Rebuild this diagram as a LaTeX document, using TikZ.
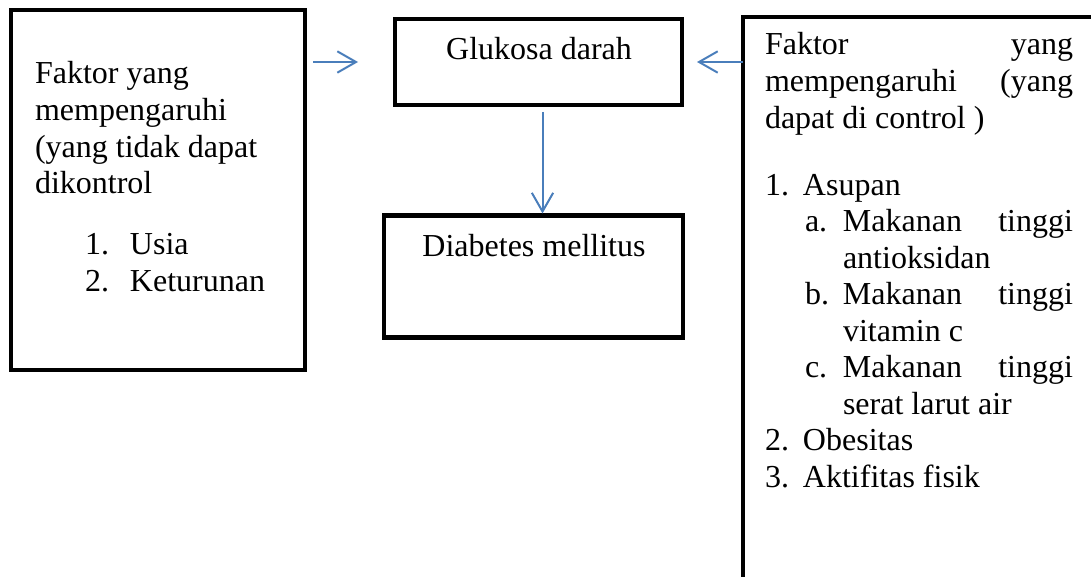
\documentclass[tikz,border=0pt]{standalone}
\usepackage{fontspec}
\setmainfont{Liberation Serif}
\usetikzlibrary{positioning,arrows.meta}
\definecolor{PanahBiru}{RGB}{74,126,187}
\tikzset{
  kotak/.style={draw=black,line width=3.6pt,outer sep=0pt,inner sep=0pt},
  teks/.style={inner sep=0pt,outer sep=0pt,font=\fontsize{24}{27.4}\selectfont},
  panah/.style={-{Straight Barb[length=14pt,width=16pt]},line width=1.5pt,draw=PanahBiru}
}

\begin{document}
\begin{tikzpicture}[x=0.75pt,y=0.75pt]
  \useasboundingbox (0,0) rectangle (1091,-577);
  \clip (0,0) rectangle (1091,-577);
  \node[kotak,minimum width=220.5pt,minimum height=270pt] (tidakterkontrol) at (158,-190) {};
  \node[kotak,minimum width=215.25pt,minimum height=64.5pt] (glukosa) at (538.5,-62) {};
  \node[kotak,minimum width=224.25pt,minimum height=91.5pt] (diabetes) at (533.5,-276.5) {};
  \node[kotak,minimum width=275.25pt,minimum height=437.25pt] (terkontrol) at (926.5,-308.5) {};
  \node[teks,anchor=base] (glukosaTeks) at (539,-60) {Glukosa darah};
  \node[teks,anchor=base] (diabetesTeks) at (534,-256) {Diabetes mellitus};
  \node[teks,anchor=base west] (tidakterkontrolTeks) at (35,-84) {\parbox[t]{200pt}{%
    Faktor yang\\
    mempengaruhi\\
    (yang tidak dapat\\
    dikontrol\\[18.4pt]
    \hspace*{37.5pt}\makebox[33.75pt][l]{1.}Usia\\
    \hspace*{37.5pt}\makebox[33.75pt][l]{2.}Keturunan}};
  \node[teks,anchor=base west] (terkontrolTeks) at (765,-55) {\parbox[t]{231pt}{%
    Faktor\hfill yang\\
    mempengaruhi\hfill(yang\\
    dapat di control )\\[22.9pt]
    \makebox[28.5pt][l]{1.}Asupan\\
    \hspace*{30pt}\makebox[28.5pt][l]{a.}Makanan\hfill tinggi\\
    \hspace*{58.5pt}antioksidan\\
    \hspace*{30pt}\makebox[28.5pt][l]{b.}Makanan\hfill tinggi\\
    \hspace*{58.5pt}vitamin c\\
    \hspace*{30pt}\makebox[28.5pt][l]{c.}Makanan\hfill tinggi\\
    \hspace*{58.5pt}serat larut air\\
    \makebox[28.5pt][l]{2.}Obesitas\\
    \makebox[28.5pt][l]{3.}Aktifitas fisik}};
  \draw[panah,shorten <=6pt,shorten >=27.75pt] (tidakterkontrol.east |- glukosa.west) -- (glukosa.west);
  \draw[panah,shorten >=11.25pt] (terkontrol.west |- glukosa.east) -- (glukosa.east);
  \draw[panah,shorten <=5.25pt,shorten >=1.5pt] ([xshift=3pt]glukosa.south) -- ([xshift=3pt]glukosa.south |- diabetes.north);
\end{tikzpicture}
\end{document}
